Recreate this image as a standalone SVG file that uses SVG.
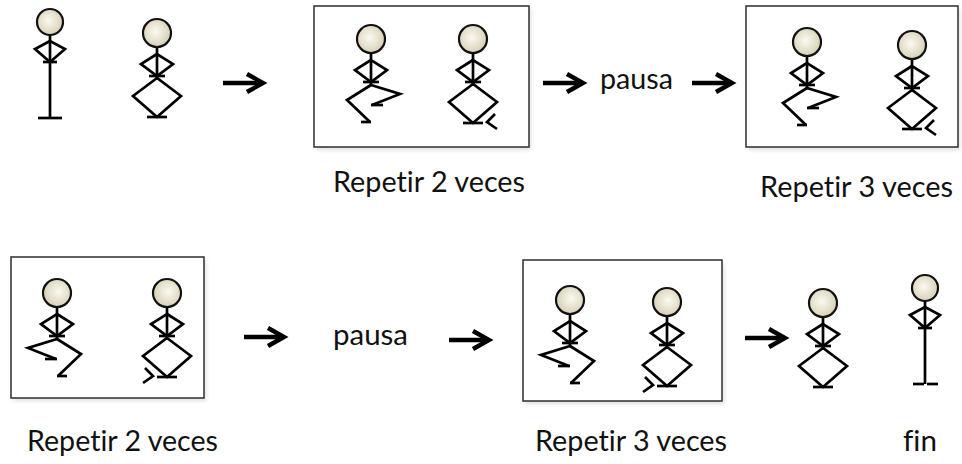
<svg xmlns="http://www.w3.org/2000/svg" xmlns:xlink="http://www.w3.org/1999/xlink" width="962" height="464" viewBox="0 0 962 464">
  <style>
    .ln { fill: none; stroke: #000; stroke-width: 2.7; stroke-linejoin: miter; stroke-linecap: butt; }
    .head { fill: url(#headFill); stroke: #111; stroke-width: 2.2; }
    .box { fill: #fff; stroke: #3a3a3a; stroke-width: 1.6; }
    .shadow { fill: #000; opacity: 0.12; filter: url(#soft); }
    .arrow { fill: none; stroke: #000; stroke-width: 4.4; }
    .label { font-family: "Lato", "Open Sans", "Liberation Sans", sans-serif; font-size: 28px; fill: #111;
             font-variant-ligatures: none; font-feature-settings: "liga" 0, "clig" 0; }
  </style>
  <defs>
    <radialGradient id="headFill" cx="0.45" cy="0.45" r="0.6">
      <stop offset="0" stop-color="#fbfaf1"/>
      <stop offset="1" stop-color="#d4cdb0"/>
    </radialGradient>
    <filter id="soft" x="-10%" y="-10%" width="120%" height="130%">
      <feGaussianBlur stdDeviation="2"/>
    </filter>

    <!-- head, spine, arms on hips and hip bar (origin = head centre) -->
    <g id="upper">
      <line class="ln" x1="0" y1="13" x2="0" y2="47"/>
      <polygon class="ln" points="0,21 -16,31 0,43 16,31"/>
      <line class="ln" x1="-8" y1="43" x2="8" y2="43"/>
      <circle class="head" cx="0" cy="0" r="14"/>
    </g>
    <!-- knees bent outward, heels together -->
    <g id="legsWide">
      <polygon class="ln" points="0,45 -24,63 0,84 24,63"/>
      <line class="ln" x1="-10" y1="84" x2="10" y2="84"/>
    </g>
    <!-- one knee raised, facing right -->
    <g id="legsSide">
      <polyline class="ln" points="0,46 -24,61 -1,83"/>
      <line class="ln" x1="-10" y1="83" x2="0" y2="83"/>
      <polyline class="ln" points="0,46 29,55 1,66"/>
      <line class="ln" x1="0" y1="66" x2="12" y2="66"/>
    </g>
    <!-- small motion mark beside the heels -->
    <polyline id="motion" class="ln" points="22,75 14,83 24,90"/>

    <g id="squatWide">
      <use xlink:href="#upper"/>
      <use xlink:href="#legsWide"/>
    </g>
    <g id="squatSide">
      <use xlink:href="#legsSide"/>
      <use xlink:href="#upper"/>
    </g>
    <g id="squatWideMotion">
      <use xlink:href="#squatWide"/>
      <use xlink:href="#motion"/>
    </g>

    <!-- standing figure -->
    <g id="stand">
      <line class="ln" x1="0" y1="12" x2="0" y2="96"/>
      <polygon class="ln" points="0,19 -15,27 0,40 15,27"/>
      <line class="ln" x1="-7" y1="40" x2="7" y2="40"/>
      <circle class="head" cx="0" cy="0" r="13"/>
    </g>

    <!-- block arrow -->
    <g id="arrow">
      <line class="arrow" x1="0" y1="0" x2="38" y2="0"/>
      <polyline class="arrow" points="24,-9 40,0 24,9"/>
    </g>
  </defs>

  <!-- frames around repeated sequences -->
  <g id="frames">
    <g id="frame1">
      <rect class="shadow" x="316" y="9" width="215" height="141"/>
      <rect class="box" x="314" y="6" width="215" height="141"/>
    </g>
    <g id="frame2">
      <rect class="shadow" x="748" y="9" width="212" height="141"/>
      <rect class="box" x="746" y="6" width="212" height="141"/>
    </g>
    <g id="frame3">
      <rect class="shadow" x="13" y="260" width="193" height="141"/>
      <rect class="box" x="11" y="257" width="193" height="141"/>
    </g>
    <g id="frame4">
      <rect class="shadow" x="525" y="263" width="199" height="141"/>
      <rect class="box" x="523" y="260" width="199" height="141"/>
    </g>
  </g>

  <!-- figures, row 1 -->
  <g id="fig1">
    <use xlink:href="#stand" transform="translate(50,22)"/>
    <line class="ln" x1="38" y1="118" x2="62" y2="118"/>
  </g>
  <g id="fig2"><use xlink:href="#squatWide" transform="translate(157,33)"/></g>
  <g id="fig3"><use xlink:href="#squatSide" transform="translate(371,39)"/></g>
  <g id="fig4"><use xlink:href="#squatWideMotion" transform="translate(473,39)"/></g>
  <g id="fig5"><use xlink:href="#squatSide" transform="translate(807,42)"/></g>
  <g id="fig6"><use xlink:href="#squatWideMotion" transform="translate(912,45)"/></g>

  <!-- figures, row 2 -->
  <g id="fig7"><use xlink:href="#squatSide" transform="translate(57,293) scale(-1,1)"/></g>
  <g id="fig8"><use xlink:href="#squatWideMotion" transform="translate(167,293) scale(-1,1)"/></g>
  <g id="fig9"><use xlink:href="#squatSide" transform="translate(570,300) scale(-1,1)"/></g>
  <g id="fig10"><use xlink:href="#squatWideMotion" transform="translate(667,302) scale(-1,1)"/></g>
  <g id="fig11"><use xlink:href="#squatWide" transform="translate(823,303)"/></g>
  <g id="fig12">
    <use xlink:href="#stand" transform="translate(925,288)"/>
    <line class="ln" x1="913" y1="384" x2="924" y2="384"/>
    <line class="ln" x1="927" y1="384" x2="938" y2="384"/>
  </g>

  <!-- connectors -->
  <g id="connectors">
    <use xlink:href="#arrow" transform="translate(223,83)"/>
    <use xlink:href="#arrow" transform="translate(543,83)"/>
    <use xlink:href="#arrow" transform="translate(692,83)"/>
    <use xlink:href="#arrow" transform="translate(244,337)"/>
    <use xlink:href="#arrow" transform="translate(449,340)"/>
    <use xlink:href="#arrow" transform="translate(745,338)"/>
  </g>

  <!-- labels -->
  <g id="labels">
    <text class="label" x="333" y="192" textLength="192" lengthAdjust="spacingAndGlyphs">Repetir 2 veces</text>
    <text class="label" x="760" y="197" textLength="193" lengthAdjust="spacingAndGlyphs">Repetir 3 veces</text>
    <text class="label" x="600" y="89" textLength="73" lengthAdjust="spacingAndGlyphs">pausa</text>
    <text class="label" x="333" y="345" textLength="75" lengthAdjust="spacingAndGlyphs">pausa</text>
    <text class="label" x="27" y="451" textLength="191" lengthAdjust="spacingAndGlyphs">Repetir 2 veces</text>
    <text class="label" x="535" y="451" textLength="192" lengthAdjust="spacingAndGlyphs">Repetir 3 veces</text>
    <text class="label" x="903" y="451" textLength="34" lengthAdjust="spacingAndGlyphs">fin</text>
  </g>
</svg>
